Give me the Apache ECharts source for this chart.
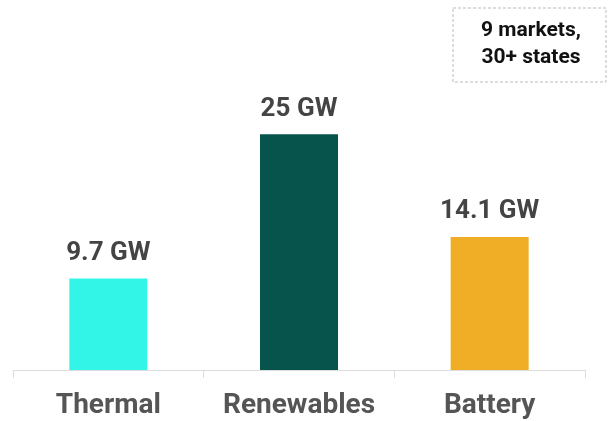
<!DOCTYPE html>
<html lang="en">
<head>
    <meta charset="UTF-8">
    <title>Capacity by technology</title>
    <script src="https://cdn.jsdelivr.net/npm/echarts@6/dist/echarts.min.js"></script>
    <style>
        html, body { margin: 0; padding: 0; background: #fff; }
        #main { width: 615px; height: 421px; }
    </style>
</head>
<body>
<div id="main"></div>
<script>
    var categories = ['Thermal', 'Renewables', 'Battery'];
    var values = [9.7, 25, 14.1];
    var colors = ['#33f5e7', '#06544c', '#f0ae26'];
    var note = ['9 markets,', '30+ states'];

    var myChart = echarts.init(document.getElementById('main'));
    var option = {
        animation: false,
        grid: { left: 13, right: 30, top: 87, bottom: 51 },
        xAxis: {
            type: 'category',
            data: categories,
            axisLine: { lineStyle: { color: '#dcdcdc', width: 1 } },
            axisTick: { show: true, length: 8, lineStyle: { color: '#dcdcdc' } },
            axisLabel: {
                interval: 0,
                hideOverlap: false,
                color: '#555',
                fontFamily: 'Roboto',
                fontWeight: 'bold',
                fontSize: 28,
                margin: 22
            }
        },
        yAxis: {
            type: 'value',
            min: 0,
            max: 30,
            show: false,
            splitLine: { show: false }
        },
        series: [
            {
                type: 'bar',
                barWidth: 78,
                data: values.map(function (v, i) {
                    return { value: v, itemStyle: { color: colors[i] } };
                }),
                label: {
                    show: true,
                    position: 'top',
                    distance: 12,
                    color: '#444',
                    fontFamily: 'Roboto',
                    fontWeight: 'bold',
                    fontSize: 26,
                    formatter: function (p) { return p.value + ' GW'; }
                }
            }
        ],
        graphic: [
            {
                type: 'rect',
                x: 453,
                y: 8,
                shape: { width: 153, height: 74 },
                style: { fill: '#fff', stroke: '#bbb', lineWidth: 1, lineDash: [3, 2] }
            },
            {
                type: 'text',
                x: 531,
                y: 17,
                style: {
                    text: note.join('\n'),
                    textAlign: 'center',
                    fill: '#111',
                    font: 'bold 21px Roboto',
                    lineHeight: 27
                }
            }
        ]
    };
    myChart.setOption(option);
</script>
</body>
</html>
